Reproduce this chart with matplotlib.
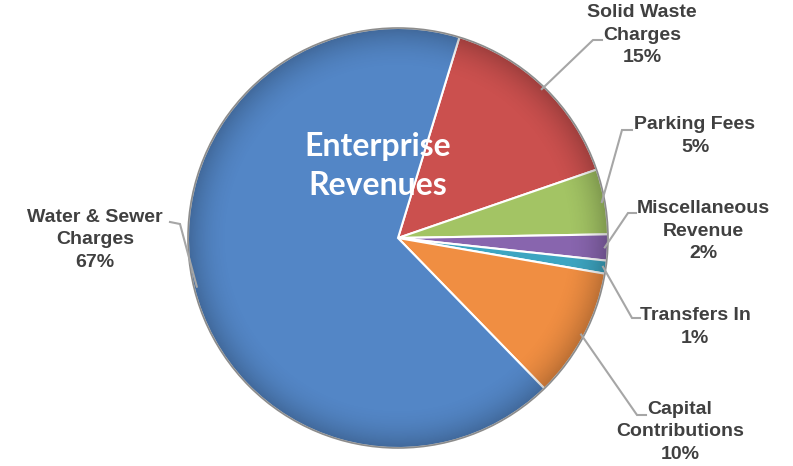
import numpy as np
import matplotlib.pyplot as plt
from matplotlib.patches import Circle

# Enterprise revenue shares (percent)
categories = ['Solid Waste\nCharges', 'Parking Fees', 'Miscellaneous\nRevenue',
              'Transfers In', 'Capital\nContributions', 'Water & Sewer\nCharges']
shares = [15, 5, 2, 1, 10, 67]
colors = ['#CB504E', '#A3C464', '#8865AE', '#3DA5C1', '#F08E42', '#5386C6']

# label layout in pixel coords (x, y from top), plus the elbow of the leader line
label_pos = [(642, 35), (695, 136), (703, 231), (695, 327), (680, 432), (95, 240)]
elbow_pos = [(593, 40), (622, 130), (628, 213), (632, 318), (637, 415), (180, 224)]
elbow_end = [(602, 40), (632, 130), (636, 213), (640, 318), (646, 415), (170, 222)]

W, H = 793, 466
cx, cy, r = 398, H - 238, 210

fig = plt.figure(figsize=(W / 100, H / 100), dpi=100)
ax = fig.add_axes([0, 0, 1, 1])
ax.set_xlim(0, W)
ax.set_ylim(0, H)
ax.set_aspect('equal')
ax.axis('off')

wedges, _ = ax.pie(shares, colors=colors, startangle=73, counterclock=False,
                   center=(cx, cy), radius=r,
                   wedgeprops=dict(edgecolor='white', linewidth=1.5))

# soft rim shading for a bevelled look
yy, xx = np.mgrid[-1:1:400j, -1:1:400j]
rr = np.sqrt(xx ** 2 + yy ** 2)
shade = np.zeros((400, 400, 4))
shade[..., 3] = np.clip((rr - 0.8) / 0.2, 0, 1) ** 2 * 0.22
img = ax.imshow(shade, extent=(cx - r, cx + r, cy - r, cy + r), zorder=3,
                interpolation='bilinear')
img.set_clip_path(Circle((cx, cy), r, transform=ax.transData))

ax.set_xlim(0, W)
ax.set_ylim(0, H)
ax.add_patch(Circle((cx, cy), r, fill=False, edgecolor='#8c8c8c', linewidth=1.2, zorder=4))

line_col = '#a6a6a6'
text_col = '#404040'
for w, lab, s, lp, ep, ee in zip(wedges, categories, shares, label_pos, elbow_pos, elbow_end):
    mid = np.deg2rad((w.theta1 + w.theta2) / 2)
    px, py = cx + (r - 3) * np.cos(mid), cy + (r - 3) * np.sin(mid)
    ax.plot([px, ep[0], ee[0]], [py, H - ep[1], H - ee[1]], color=line_col, lw=1.5,
            solid_joinstyle='miter', zorder=5)
    ax.text(lp[0], H - lp[1], f'{lab}\n{s}%', ha='center', va='center',
            fontsize=14, fontweight='bold', color=text_col,
            family='Liberation Sans', linespacing=1.4, zorder=6)

ax.text(378, H - 166, 'Enterprise\nRevenues', ha='center', va='center',
        fontsize=23, fontweight='bold', color='white', family='Lato',
        linespacing=1.4, zorder=6)

fig.savefig('out.png', dpi=100)
